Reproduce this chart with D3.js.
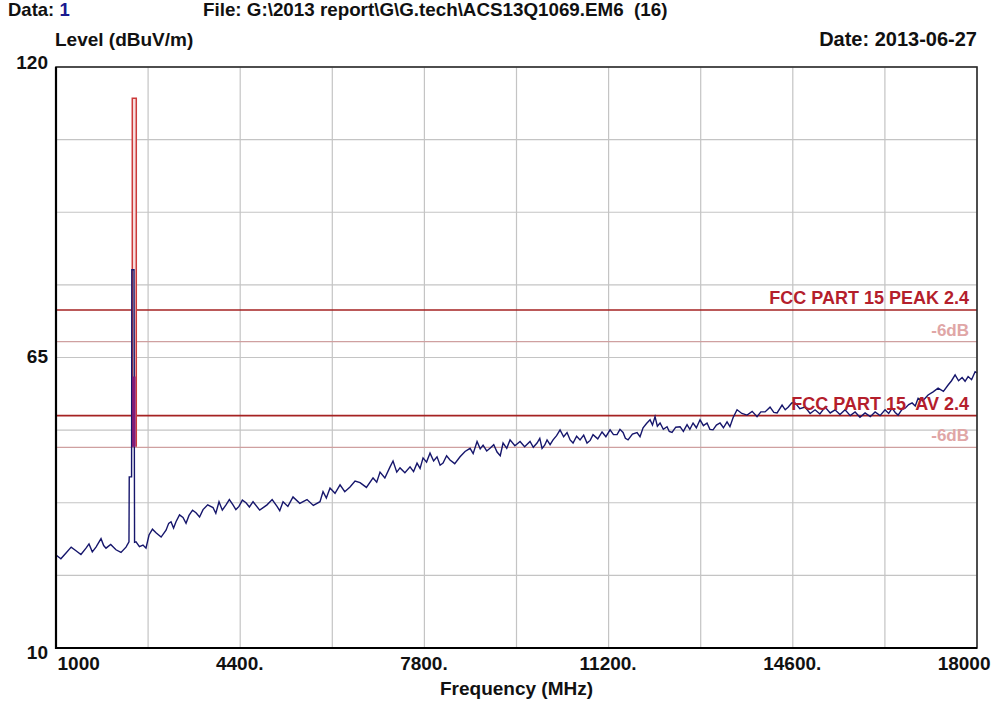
<!DOCTYPE html>
<html>
<head>
<meta charset="utf-8">
<script src="https://cdn.jsdelivr.net/npm/d3@7/dist/d3.min.js"></script>
<style>
  html, body { margin: 0; padding: 0; background: #ffffff; }
  svg text { font-family: "Liberation Sans", Arial, sans-serif; font-weight: bold; white-space: pre; }
</style>
</head>
<body>
<svg id="chart" width="995" height="702"></svg>
<script>
// ---------------- data ----------------
const xTickValues = [1000, 4400, 7800, 11200, 14600, 18000];
const xTickLabels = ["1000", "4400.", "7800.", "11200.", "14600.", "18000"];
const xGridValues = [1000, 2700, 4400, 6100, 7800, 9500, 11200, 12900, 14600, 16300, 18000];
const yTickValues = [10, 65, 120];
const yGridValues = [10, 23.75, 37.5, 51.25, 65, 78.75, 92.5, 106.25, 120];

// measured trace (MHz, dBuV/m)
const traceFreq = [
  1000,1090,1185,1280,1369,1460,1554,1609,1670,1738,1831,1880,1923,2010,2107,2200,2292,2347,
  2352,2395,2400,2440,2450,
  2477,2540,2606,2661,2717,2780,2846,2940,3031,3080,3123,3170,3215,3280,3344,3400,3455,3520,3584,3650,3714,3800,3898,3950,
  4009,4070,4138,4200,4267,4320,4378,4440,4507,4570,4637,4760,4895,4990,5080,5130,5191,5280,5375,5500,5633,5750,5873,5929,5990,
  6058,6150,6243,6330,6427,6520,6612,6730,6852,6920,6981,7070,7166,7221,7290,7350,7440,7535,7600,7664,7720,7775,7840,7904,7970,
  8033,8090,8144,8210,8273,8360,8458,8550,8643,8700,8772,8830,8883,8950,9011,9080,9141,9200,9252,9320,9381,9470,9566,9650,9750,9810,9879,9930,9972,
  10020,10064,10120,10175,10240,10304,10370,10433,10490,10544,10610,10673,10740,10802,10860,10913,11000,11079,11150,11227,11290,11356,11410,11467,11510,11559,11640,11725,11780,11836,11900,11965,
  12010,12057,12100,12150,12210,12279,12320,12371,12440,12519,12580,12648,12700,12759,12820,12888,12950,13017,13070,13128,13190,13257,13320,13386,13440,13497,13571,13660,13756,13850,13940,
  14010,14088,14180,14250,14310,14402,14460,14513,14580,14643,14730,14827,14920,15011,15100,15196,15290,15380,15470,15565,15660,15750,15840,15934,
  16030,16119,16210,16303,16370,16433,16490,16544,16610,16673,16740,16802,16860,16913,17000,17097,17190,17282,17380,17467,17530,17596,17660,17725,17780,17836,17900,17965,18000
];
const traceLevel = [
  27.6,26.9,28.0,29.1,28.4,27.7,28.9,29.7,28.2,29.1,30.7,29.4,28.9,29.6,28.6,28.1,29.1,30.1,
  42.4,42.4,81.6,81.6,30.0,
  30.1,29.2,29.5,28.9,31.4,32.5,31.8,31.0,32.3,33.6,33.9,32.7,33.9,35.2,34.7,33.6,35.1,36.1,35.6,34.8,36.2,37.1,36.6,35.5,
  37.7,36.1,37.1,38.1,37.1,36.2,36.8,38.0,37.5,36.7,37.7,36.1,37.1,38.1,36.8,36.0,37.7,36.8,38.6,37.4,38.1,37.0,37.7,39.6,38.4,
  40.3,39.3,40.9,39.6,40.5,41.6,41.3,40.4,42.2,41.4,43.3,42.2,44.3,45.4,43.3,44.1,43.2,44.3,43.4,45.0,44.0,46.0,45.2,46.9,45.4,
  46.2,44.6,45.0,46.4,45.6,44.9,46.2,47.2,47.8,46.8,49.1,47.7,48.4,47.3,47.8,48.5,47.1,46.4,48.8,47.8,49.4,48.3,49.1,48.1,49.1,48.0,48.8,49.7,47.8,
  48.4,49.4,48.5,49.4,50.2,51.3,50.0,50.8,49.4,48.8,50.1,49.4,50.3,48.8,49.3,50.4,49.6,50.9,50.0,51.3,50.4,50.4,51.4,50.8,49.7,49.4,50.5,50.8,50.0,51.7,52.5,53.2,
  52.2,53.8,52.0,52.6,51.4,51.9,51.0,50.8,51.8,51.9,51.0,52.3,51.4,52.6,51.7,53.2,52.1,52.6,51.4,51.3,52.2,52.6,51.7,52.8,51.9,53.6,55.1,54.4,54.1,54.8,53.8,
  54.7,54.7,55.6,54.6,54.5,56.0,55.1,55.6,56.4,56.4,55.3,55.6,54.4,55.1,54.3,55.6,54.5,55.1,54.2,55.1,54.0,54.7,53.7,54.5,
  53.8,54.7,54.0,55.1,54.4,55.4,54.6,54.1,55.1,55.4,56.1,56.4,55.8,57.3,56.8,57.9,58.5,59.2,58.6,59.8,60.6,61.7,60.6,61.2,60.5,61.4,60.8,62.3,62.1
];

// peak-hold trace around the 2.4 GHz carrier
const peakFreq  = [2408, 2408, 2482, 2482];
const peakLevel = [48.1, 114.1, 114.1, 48.1];
// average trace around the carrier
const avgFreq  = [2418, 2418, 2458, 2458];
const avgLevel = [48.1, 61.3, 61.3, 48.1];

// limit lines
const limitNames  = ["FCC PART 15 PEAK 2.4", "-6dB", "FCC PART 15  AV 2.4", "-6dB"];
const limitLevels = [74, 68, 54, 48];
const limitKinds  = ["limit", "margin", "limit", "margin"];

// ---------------- layout ----------------
const svg = d3.select("#chart");
const L = 56, R = 977, T = 67, B = 648;
const x = d3.scaleLinear().domain([1000, 18000]).range([L, R]);
const y = d3.scaleLinear().domain([10, 120]).range([B, T]);

// grid
svg.append("g").selectAll("line").data(xGridValues).join("line")
  .attr("x1", d => x(d)).attr("x2", d => x(d)).attr("y1", T).attr("y2", B)
  .attr("stroke", "#c4c4c4").attr("stroke-width", 1.2);
svg.append("g").selectAll("line").data(yGridValues).join("line")
  .attr("x1", L).attr("x2", R).attr("y1", d => y(d)).attr("y2", d => y(d))
  .attr("stroke", "#c4c4c4").attr("stroke-width", 1.2);

// limit lines
const limLines = svg.append("g");
limitLevels.forEach((v, i) => {
  const isLimit = limitKinds[i] === "limit";
  limLines.append("line")
    .attr("x1", L).attr("x2", R).attr("y1", y(v)).attr("y2", y(v))
    .attr("stroke", isLimit ? "#a52222" : "#cfa0a0")
    .attr("stroke-width", isLimit ? 1.6 : 1.3);
});

// traces
const line = d3.line().x(d => x(d[0])).y(d => y(d[1]));
svg.append("path")
  .datum(peakFreq.map((f, i) => [f, peakLevel[i]]))
  .attr("d", line).attr("fill", "#f6dede").attr("stroke", "#cc3a3a").attr("stroke-width", 1.5);
svg.append("path")
  .datum(traceFreq.map((f, i) => [f, traceLevel[i]]))
  .attr("d", line).attr("fill", "none").attr("stroke", "#16166c").attr("stroke-width", 1.4)
  .attr("stroke-linejoin", "miter");
svg.append("path")
  .datum(avgFreq.map((f, i) => [f, avgLevel[i]]))
  .attr("d", line).attr("fill", "#8a2080").attr("stroke", "#7a1a78").attr("stroke-width", 1.2);

// limit labels (over traces)
const limLabels = svg.append("g");
limitLevels.forEach((v, i) => {
  const isLimit = limitKinds[i] === "limit";
  limLabels.append("text")
    .attr("x", 969).attr("y", y(v) - 6)
    .attr("text-anchor", "end")
    .attr("font-size", isLimit ? 18 : 17)
    .attr("fill", isLimit ? "#b41e2c" : "#e0a6a6")
    .text(limitNames[i]);
});

// frame
svg.append("rect").attr("x", L).attr("y", T).attr("width", R - L).attr("height", B - T)
  .attr("fill", "none").attr("stroke", "#2a2a2a").attr("stroke-width", 1.6);
svg.append("line").attr("x1", L).attr("x2", L).attr("y1", T).attr("y2", B + 1)
  .attr("stroke", "#000").attr("stroke-width", 2.2);
svg.append("line").attr("x1", L - 1).attr("x2", R).attr("y1", B).attr("y2", B)
  .attr("stroke", "#000").attr("stroke-width", 2.2);

// x axis labels
const xAxis = d3.axisBottom(x).tickValues(xTickValues)
  .tickFormat((d, i) => xTickLabels[i]).tickSize(0).tickPadding(0);
const gx = svg.append("g").attr("transform", `translate(0,${B})`).call(xAxis);
gx.select(".domain").remove();
gx.selectAll("text")
  .attr("font-size", 19).attr("fill", "#111").attr("dy", null).attr("y", 22)
  .attr("text-anchor", (d, i) => i === 0 ? "start" : (i === xTickValues.length - 1 ? "end" : "middle"))
  .attr("dx", (d, i) => i === 0 ? 1 : (i === xTickValues.length - 1 ? 13 : -1))
  .attr("font-family", null);

// y axis labels
const yLabelShift = [4, -2, -5];
const yAxis = d3.axisLeft(y).tickValues(yTickValues).tickFormat(d3.format("d")).tickSize(0).tickPadding(0);
const gy = svg.append("g").attr("transform", `translate(${L - 8},0)`).call(yAxis);
gy.select(".domain").remove();
gy.selectAll("text").attr("font-size", 19).attr("fill", "#111")
  .attr("dy", "0.35em")
  .attr("y", (d, i) => yLabelShift[i])
  .attr("font-family", null);

// titles
svg.append("text").attr("x", 8).attr("y", 16).attr("font-size", 18.5).attr("fill", "#111")
  .text("Data: ").append("tspan").attr("fill", "#1a1a90").text("1");
svg.append("text").attr("x", 203).attr("y", 16).attr("font-size", 18.8).attr("fill", "#111")
  .text("File: G:\\2013 report\\G\\G.tech\\ACS13Q1069.EM6  (16)");
svg.append("text").attr("x", 55).attr("y", 46).attr("font-size", 19).attr("fill", "#111")
  .text("Level (dBuV/m)");
svg.append("text").attr("x", 977).attr("y", 46).attr("font-size", 20).attr("fill", "#111")
  .attr("text-anchor", "end").text("Date: 2013-06-27");
svg.append("text").attr("x", (L + R) / 2).attr("y", 695).attr("font-size", 19).attr("fill", "#111")
  .attr("text-anchor", "middle").text("Frequency (MHz)");
</script>
</body>
</html>
